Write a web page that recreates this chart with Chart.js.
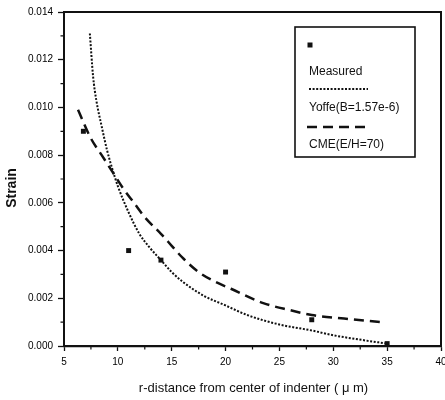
<!DOCTYPE html>
<html>
<head>
<meta charset="utf-8">
<script src="https://cdn.jsdelivr.net/npm/chart.js@4/dist/chart.umd.min.js"></script>
<style>
html,body{margin:0;padding:0;background:#fff;}
#wrap{width:445px;height:400px;position:relative;}
</style>
</head>
<body>
<div id="wrap"><canvas id="c" width="445" height="400"></canvas></div>
<script>
// ---- data ----
const measuredX = [6.8, 11.0, 14.0, 20.0, 28.0, 35.0];
const measuredY = [0.0090, 0.0040, 0.0036, 0.0031, 0.0011, 0.0001];

const yoffeX = [7.4, 7.7, 8.0, 8.5, 9.0, 9.5, 10, 11, 12, 13, 14, 15, 16, 18, 20, 22, 25, 28, 30, 32, 35];
const yoffeY = [0.0131, 0.0113, 0.0103, 0.0092, 0.0082, 0.0074, 0.0067, 0.0056, 0.0047, 0.0041, 0.0036, 0.0031, 0.0027, 0.0021, 0.0017, 0.0013, 0.0009, 0.00065, 0.00045, 0.0003, 0.0001];

const cmeX = [6.3, 7.5, 8.5, 9.5, 10.5, 11.5, 12.5, 14, 15, 16, 17.5, 19, 20.5, 23.5, 26, 28, 31, 34.5];
const cmeY = [0.0099, 0.0087, 0.0080, 0.0073, 0.0066, 0.0060, 0.0054, 0.0047, 0.0042, 0.0037, 0.0031, 0.0027, 0.0024, 0.0018, 0.0015, 0.0013, 0.00115, 0.0010];

const xTickValues = [5, 10, 15, 20, 25, 30, 35, 40];
const yTickValues = [0, 0.002, 0.004, 0.006, 0.008, 0.010, 0.012, 0.014];
const xMinorValues = [7.5, 12.5, 17.5, 22.5, 27.5, 32.5, 37.5];
const yMinorValues = [0.001, 0.003, 0.005, 0.007, 0.009, 0.011, 0.013];

const seriesNames = ['Measured', 'Yoffe(B=1.57e-6)', 'CME(E/H=70)'];
const xTitle = 'r-distance from center of indenter ( \u03BC m)';
const yTitle = 'Strain';

const pts = (xs, ys) => xs.map((x, i) => ({x: x, y: ys[i]}));
const INK = '#111';

const decorPlugin = {
  id: 'decor',
  afterDraw(chart) {
    const ctx = chart.ctx;
    const a = chart.chartArea;
    const xs = chart.scales.x, ys = chart.scales.y;
    ctx.save();
    ctx.strokeStyle = INK;
    ctx.fillStyle = INK;
    // top & right frame
    ctx.lineWidth = 2;
    ctx.beginPath();
    ctx.moveTo(a.left, a.top);
    ctx.lineTo(a.right, a.top);
    ctx.lineTo(a.right, a.bottom);
    ctx.stroke();
    // minor ticks
    ctx.lineWidth = 1.2;
    ctx.beginPath();
    xMinorValues.forEach(v => {
      const px = xs.getPixelForValue(v);
      ctx.moveTo(px, a.bottom); ctx.lineTo(px, a.bottom + 3.5);
    });
    yMinorValues.forEach(v => {
      const py = ys.getPixelForValue(v);
      ctx.moveTo(a.left - 3.5, py); ctx.lineTo(a.left, py);
    });
    ctx.stroke();
    // axis titles
    ctx.textAlign = 'center';
    ctx.textBaseline = 'middle';
    ctx.font = '13px "Liberation Sans", Arial, sans-serif';
    ctx.fillText(xTitle, (a.left + a.right) / 2 + 1, 388);
    ctx.save();
    ctx.translate(12.5, 188);
    ctx.rotate(-Math.PI / 2);
    ctx.font = 'bold 14px "Liberation Sans", Arial, sans-serif';
    ctx.fillText(yTitle, 0, 0);
    ctx.restore();
    // legend box
    const lx = 295, ly = 27, lw = 120, lh = 130;
    ctx.lineWidth = 1.6;
    ctx.strokeRect(lx, ly, lw, lh);
    ctx.fillRect(307.5, 42.5, 5, 5);
    ctx.textAlign = 'left';
    ctx.font = '12px "Liberation Sans", Arial, sans-serif';
    ctx.fillText(seriesNames[0], 309, 72);
    ctx.fillText(seriesNames[1], 309, 108);
    ctx.fillText(seriesNames[2], 309, 145);
    ctx.lineWidth = 2;
    ctx.setLineDash([2, 1.6]);
    ctx.beginPath(); ctx.moveTo(309, 89); ctx.lineTo(368, 89); ctx.stroke();
    ctx.lineWidth = 2.5;
    ctx.setLineDash([10, 6]);
    ctx.beginPath(); ctx.moveTo(307, 127); ctx.lineTo(365, 127); ctx.stroke();
    ctx.restore();
  }
};

const tickFont = {family: '"Liberation Sans", Arial, sans-serif', size: 10};

new Chart(document.getElementById('c'), {
  type: 'line',
  data: {
    datasets: [
      {
        label: seriesNames[0],
        data: pts(measuredX, measuredY),
        showLine: false,
        pointStyle: 'rect',
        pointRadius: 3.5,
        backgroundColor: INK,
        borderColor: INK,
        borderWidth: 0
      },
      {
        label: seriesNames[1],
        data: pts(yoffeX, yoffeY),
        borderColor: INK,
        borderWidth: 2,
        borderDash: [2, 1.6],
        pointRadius: 0,
        fill: false,
        cubicInterpolationMode: 'monotone'
      },
      {
        label: seriesNames[2],
        data: pts(cmeX, cmeY),
        borderColor: INK,
        borderWidth: 2.5,
        borderDash: [10, 6],
        pointRadius: 0,
        fill: false,
        cubicInterpolationMode: 'monotone'
      }
    ]
  },
  options: {
    responsive: false,
    animation: false,
    devicePixelRatio: 1,
    layout: {padding: {top: 12, right: 3, left: 0, bottom: 0}},
    plugins: {legend: {display: false}, tooltip: {enabled: false}},
    scales: {
      x: {
        type: 'linear',
        min: 5, max: 40,
        afterBuildTicks(s) { s.ticks = xTickValues.map(v => ({value: v})); },
        afterFit(s) { s.height = 54; s.paddingLeft = 0; s.paddingRight = 0; },
        ticks: {
          color: '#000', font: tickFont, padding: 5, maxRotation: 0, autoSkip: false,
          callback: v => String(v)
        },
        grid: {drawOnChartArea: false, drawTicks: true, tickLength: 5, tickColor: INK, tickWidth: 1.3},
        border: {display: true, color: INK, width: 2.2}
      },
      y: {
        type: 'linear',
        min: 0, max: 0.014,
        afterBuildTicks(s) { s.ticks = yTickValues.map(v => ({value: v})); },
        afterFit(s) { s.width = 64; s.paddingTop = 0; s.paddingBottom = 0; },
        ticks: {
          color: '#000', font: tickFont, padding: 5, autoSkip: false,
          callback: v => Number(v).toFixed(3)
        },
        grid: {drawOnChartArea: false, drawTicks: true, tickLength: 6, tickColor: INK, tickWidth: 1.3},
        border: {display: true, color: INK, width: 2}
      }
    }
  },
  plugins: [decorPlugin]
});
</script>
</body>
</html>
